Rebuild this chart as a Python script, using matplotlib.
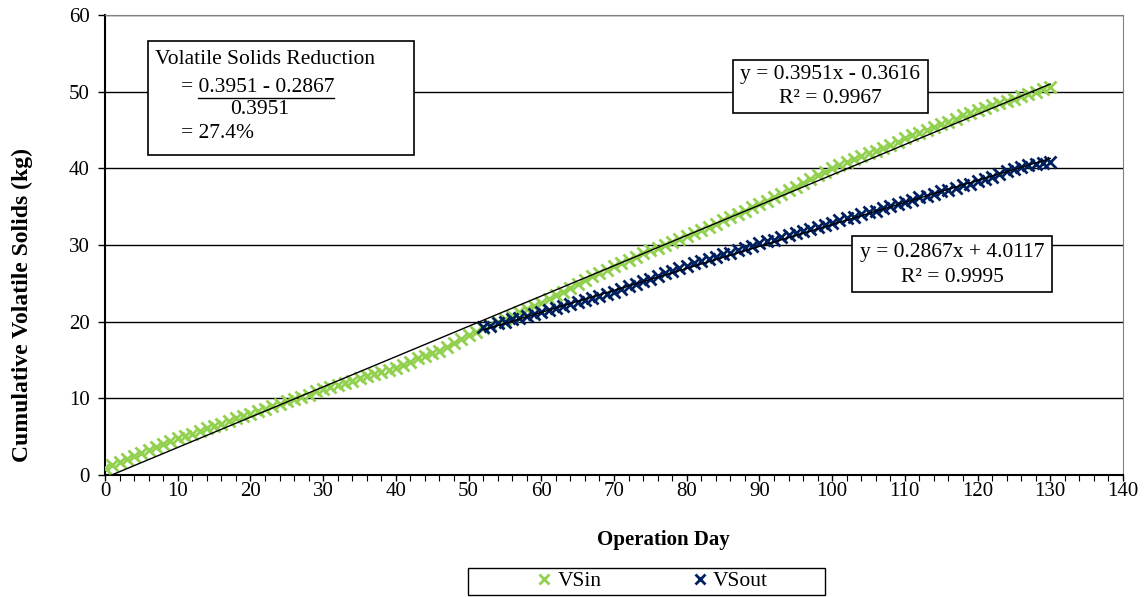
import matplotlib.pyplot as plt
from matplotlib.patches import Rectangle
from matplotlib.lines import Line2D
import numpy as np

# cumulative volatile solids (kg), one reading per operation day
days_in = list(range(0, 131))
vs_in = [0.9, 1.3, 1.7, 2.1, 2.5, 2.9, 3.3, 3.7, 4.0, 4.4, 4.8,
         5.1, 5.4, 5.8, 6.1, 6.4, 6.7, 7.0, 7.4, 7.7, 8.0,
         8.3, 8.6, 9.0, 9.3, 9.6, 9.9, 10.2, 10.5, 10.9, 11.2,
         11.5, 11.8, 12.0, 12.3, 12.6, 12.9, 13.2, 13.4, 13.7, 14.0,
         14.4, 14.8, 15.2, 15.5, 15.9, 16.2, 16.7, 17.2, 17.7, 18.2,
         18.7, 19.2, 19.6, 20.0, 20.4, 20.8, 21.3, 21.7, 22.1, 22.5,
         23.0, 23.5, 23.9, 24.4, 24.9, 25.4, 25.9, 26.4, 26.8, 27.3,
         27.7, 28.1, 28.5, 28.9, 29.3, 29.6, 30.0, 30.4, 30.8, 31.2,
         31.6, 32.0, 32.4, 32.8, 33.3, 33.7, 34.1, 34.5, 34.9, 35.3,
         35.8, 36.2, 36.7, 37.2, 37.6, 38.1, 38.6, 39.1, 39.5, 40.0,
         40.4, 40.8, 41.2, 41.6, 42.0, 42.3, 42.7, 43.1, 43.5, 43.9,
         44.3, 44.6, 45.0, 45.4, 45.8, 46.1, 46.5, 46.9, 47.2, 47.6,
         47.9, 48.2, 48.5, 48.8, 49.1, 49.4, 49.7, 50.0, 50.3, 50.6]

days_out = list(range(52, 131))
vs_out = [19.3, 19.5, 19.8, 20.0, 20.3, 20.5, 20.8, 21.0, 21.3,
          21.5, 21.8, 22.1, 22.3, 22.6, 22.8, 23.1, 23.4, 23.6, 23.9,
          24.2, 24.6, 24.9, 25.3, 25.6, 25.9, 26.3, 26.6, 27.0, 27.3,
          27.6, 27.9, 28.2, 28.5, 28.8, 29.0, 29.3, 29.6, 29.9, 30.2,
          30.5, 30.7, 31.0, 31.3, 31.6, 31.8, 32.1, 32.4, 32.6, 32.9,
          33.2, 33.5, 33.7, 34.0, 34.3, 34.5, 34.8, 35.1, 35.3, 35.6,
          35.9, 36.2, 36.4, 36.7, 37.0, 37.2, 37.5, 37.8, 38.0, 38.3,
          38.6, 38.9, 39.3, 39.6, 39.9, 40.2, 40.5, 40.6, 40.7, 40.8]

# linear trendlines as reported on the chart
slope_in, icpt_in, r2_in = 0.3951, -0.3616, 0.9967
slope_out, icpt_out, r2_out = 0.2867, 4.0117, 0.9995

green = '#92D050'
navy = '#002060'
W, H = 1146, 597

plt.rcParams['font.family'] = ['Liberation Serif', 'DejaVu Serif']

fig = plt.figure(figsize=(W / 100, H / 100), dpi=100)
ax = fig.add_axes([105 / W, 1 - 475 / H, (1123 - 105) / W, (475 - 15) / H])

def px(x, y):
    return x / W, 1 - y / H

ax.plot(days_in, vs_in, 'x', color=green, ms=8.5, mew=2, label='VSin', zorder=3)
ax.plot(days_out, vs_out, 'x', color=navy, ms=8.5, mew=2, label='VSout', zorder=3)

xi = np.array([days_in[0], days_in[-1]])
ax.plot(xi, slope_in * xi + icpt_in, color='black', lw=1, zorder=4)
xo = np.array([days_out[0], days_out[-1]])
ax.plot(xo, slope_out * xo + icpt_out, color='black', lw=1, zorder=4)

ax.set_xlim(0, 140)
ax.set_ylim(0, 60)
ax.set_xticks(range(0, 141, 10))
ax.set_xticks(range(0, 141, 2), minor=True)
ax.set_yticks(range(0, 61, 10))
ax.tick_params(axis='both', labelsize=15, length=5, width=1, direction='out', colors='black')
ax.tick_params(axis='x', which='both', length=4)
ax.tick_params(axis='x', which='minor', width=0.8)
ax.tick_params(axis='x', pad=1)
ax.tick_params(axis='y', pad=6)
ax.grid(axis='y', color='black', lw=1)
ax.set_axisbelow(True)
for s in ['top', 'right']:
    ax.spines[s].set_color('#808080')
ax.spines['left'].set_linewidth(1.5)
ax.spines['bottom'].set_linewidth(1.5)

fig.text(*px(663, 540), 'Operation Day', fontsize=15, fontweight='bold', ha='center', va='center')
fig.text(*px(22, 305), 'Cumulative Volatile Solids (kg)', fontsize=17, fontweight='bold',
         ha='center', va='center', rotation=90)

# text boxes
def box(x0, y0, x1, y1, lw=1.2):
    fig.add_artist(Rectangle(px(x0, y1), (x1 - x0) / W, (y1 - y0) / H,
                             transform=fig.transFigure, facecolor='white',
                             edgecolor='black', lw=lw, zorder=5))

fs = 15.5
box(148, 41, 414, 155)
fig.text(*px(155, 60), 'Volatile Solids Reduction', fontsize=fs, va='center', zorder=6)
fig.text(*px(181, 87), f'= {slope_in:.4f} - {slope_out:.4f}', fontsize=fs, va='center', zorder=6)
fig.add_artist(Line2D([198 / W, 334 / W], [1 - 98 / H, 1 - 98 / H], transform=fig.transFigure,
                      color='black', lw=1, zorder=6))
fig.text(*px(260, 110), f'{slope_in:.4f}', fontsize=fs, va='center', ha='center', zorder=6)
fig.text(*px(181, 134), f'= {(slope_in - slope_out) / slope_in * 100:.1f}%', fontsize=fs, va='center', zorder=6)

box(733, 60, 928, 113)
fig.text(*px(830, 75), f'y = {slope_in:.4f}x - {abs(icpt_in):.4f}', fontsize=fs, ha='center', va='center', zorder=6)
fig.text(*px(830, 99), f'R² = {r2_in:.4f}', fontsize=fs, ha='center', va='center', zorder=6)

box(852, 236, 1052, 292)
fig.text(*px(952, 253), f'y = {slope_out:.4f}x + {icpt_out:.4f}', fontsize=fs, ha='center', va='center', zorder=6)
fig.text(*px(952, 277), f'R² = {r2_out:.4f}', fontsize=fs, ha='center', va='center', zorder=6)

# legend frame drawn separately so it can be wider than its entries
box(468, 568, 825, 595, lw=1)
leg = fig.legend(loc='center', bbox_to_anchor=px(652, 581), ncol=2, fontsize=15.5,
                 frameon=False, handlelength=0.8, handletextpad=0.2, columnspacing=4.2,
                 borderpad=0.2, markerscale=0.85)
leg.set_zorder(7)

fig.savefig('out.png', dpi=100)
